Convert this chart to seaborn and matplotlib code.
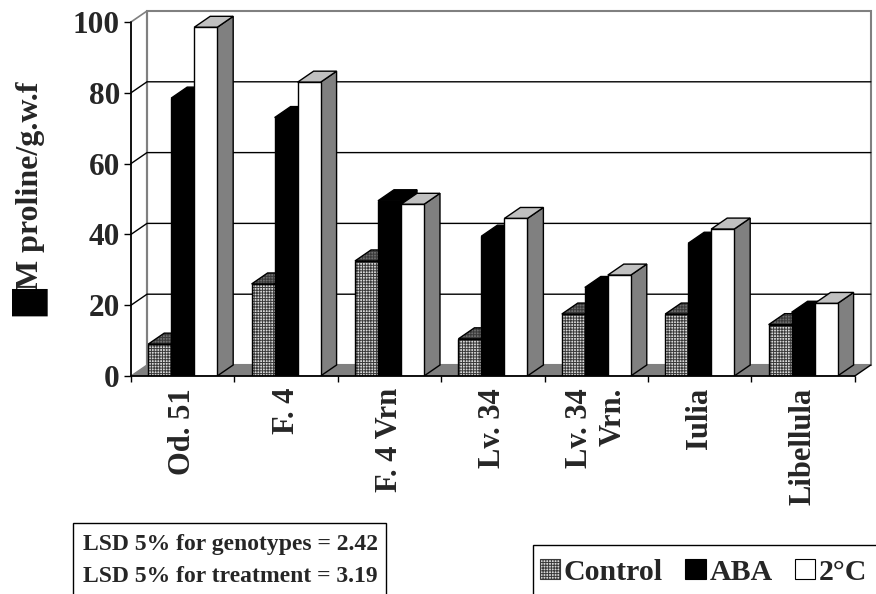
import numpy as np
import pandas as pd
import matplotlib
matplotlib.use("Agg")
import matplotlib.pyplot as plt
import seaborn as sns
from matplotlib.patches import Polygon, Rectangle, Patch

# ---- data ----
genotypes = ["Od. 51", "F. 4", "F. 4 Vrn", "Lv. 34", "Lv. 34\nVrn.", "Iulia", "Libellula"]
treatments = ["Control", "ABA", "2°C"]
control = [9, 26, 32.5, 10.5, 17.5, 17.5, 14.5]
aba = [78.5, 73, 49.5, 39.5, 25, 37.5, 18]
cold = [98.5, 83, 48.5, 44.5, 28.5, 41.5, 20.5]
yticks = [0, 20, 40, 60, 80, 100]
ylabel_box = "█"
ylabel = "M proline/g.w.f"
lsd_lines = ["LSD 5% for genotypes = 2.42", "LSD 5% for treatment = 3.19"]

sns.set_style("white")
plt.rcParams["font.family"] = ["Liberation Serif", "DejaVu Sans"]
plt.rcParams["font.weight"] = "bold"
plt.rcParams["hatch.linewidth"] = 0.7

df = pd.DataFrame({
    "genotype": genotypes * 3,
    "treatment": sum([[t] * len(genotypes) for t in treatments], []),
    "value": control + aba + cold,
})

W, H = 876, 594
fig = plt.figure(figsize=(W / 100, H / 100), dpi=100)

# pixel geometry
px_unit = 3.54          # px per value unit
cat_px = 103.4          # px per category
ddx = 16 / cat_px       # depth offset in x (data units)
ddy = 11 / px_unit      # depth offset in y (data units)
ytop = 103.5
x_left_px, y0_px = 131, 376
ax_w_px = (7 + ddx) * cat_px
ax_h_px = ytop * px_unit
ax = fig.add_axes([x_left_px / W, 1 - y0_px / H, ax_w_px / W, ax_h_px / H])

pal = {"Control": "#d8d8d8", "ABA": "black", "2°C": "white"}
sns.barplot(data=df, x="genotype", y="value", hue="treatment", order=genotypes,
            hue_order=treatments, palette=pal, width=0.667, saturation=1,
            edgecolor="black", linewidth=1, legend=False, ax=ax)

ax.set_xlim(-0.5, 6.5 + ddx)
ax.set_ylim(0, ytop)
for s in ax.spines.values():
    s.set_visible(False)
ax.set_xlabel("")
ax.set_ylabel("")

GREY = "#808080"
HATCH = "++++++"
HCOL = "#3a3a3a"

# floor
floor = Polygon([(-0.5, 0), (6.5, 0), (6.5 + ddx, ddy), (-0.5 + ddx, ddy)],
                closed=True, facecolor=GREY, edgecolor="none", zorder=1)
ax.add_patch(floor)
ax.plot([6.5, 6.5 + ddx], [0, ddy], color="black", lw=1, zorder=1.5, clip_on=False)
# back wall
ax.add_patch(Rectangle((-0.5 + ddx, ddy), 7, 100, facecolor="white",
                       edgecolor=GREY, lw=1.5, zorder=0.5, clip_on=False))
ax.plot([-0.5 + ddx, -0.5 + ddx], [ddy, 100 + ddy], color=GREY, lw=1.5, zorder=1, clip_on=False)
ax.plot([-0.5, -0.5 + ddx], [0, ddy], color=GREY, lw=1, zorder=1.5, clip_on=False)
ax.plot([-0.5, -0.5 + ddx], [100, 100 + ddy], color=GREY, lw=1.2, zorder=1.5, clip_on=False)
for v in yticks[1:-1]:
    ax.plot([-0.5, -0.5 + ddx, 6.5 + ddx], [v, v + ddy, v + ddy], color="black",
            lw=1, zorder=1.2, clip_on=False)
# front axes lines
ax.plot([-0.5, -0.5], [0, 100], color="black", lw=1.3, zorder=10, clip_on=False)
ax.plot([-0.5, 6.5], [0, 0], color="black", lw=1.3, zorder=10, clip_on=False)


def face(pts, fc, z, hatch=None):
    if hatch:
        ax.add_patch(Polygon(pts, closed=True, facecolor=fc, edgecolor=HCOL,
                             hatch=hatch, lw=0, zorder=z))
        ax.add_patch(Polygon(pts, closed=True, facecolor="none", edgecolor="black",
                             lw=1, zorder=z + 0.01))
    else:
        ax.add_patch(Polygon(pts, closed=True, facecolor=fc, edgecolor="black",
                             lw=1, zorder=z))


styles = {
    0: dict(front="#d8d8d8", top="#6e6e6e", side="#6e6e6e", hatch=HATCH),
    1: dict(front="black", top="black", side="black", hatch=None),
    2: dict(front="white", top="#c0c0c0", side=GREY, hatch=None),
}
for k, cont in enumerate(ax.containers):
    st = styles[k]
    for bar in cont:
        x0, w, h = bar.get_x(), bar.get_width(), bar.get_height()
        x1 = x0 + w
        z = 3 + k
        face([(x1, 0), (x1, h), (x1 + ddx, h + ddy), (x1 + ddx, ddy)], st["side"], z, st["hatch"])
        face([(x0, h), (x1, h), (x1 + ddx, h + ddy), (x0 + ddx, h + ddy)], st["top"], z, st["hatch"])
        if st["hatch"]:
            bar.set_facecolor(st["front"])
            bar.set_edgecolor(HCOL)
            bar.set_hatch(st["hatch"])
            bar.set_linewidth(0)
            ax.add_patch(Rectangle((x0, 0), w, h, facecolor="none", edgecolor="black",
                                   lw=1, zorder=z + 0.6))
        bar.set_zorder(z + 0.5)

# ticks
ax.set_yticks(yticks)
ax.set_yticklabels([str(v) for v in yticks], fontsize=22.5, fontweight="bold")
ax.tick_params(axis="y", direction="out", length=5, width=1, pad=3, left=True, color="black")
ax.set_xticks(range(len(genotypes)))
ax.set_xticklabels(genotypes, rotation=90, fontsize=22, fontweight="bold",
                   va="top", ha="center", multialignment="right")
ax.tick_params(axis="x", which="major", length=0, pad=8.5, bottom=True)
ax.set_xticks(np.arange(-0.5, 7, 1), minor=True)
ax.tick_params(axis="x", which="minor", direction="out", length=4.5, width=1,
               bottom=True, color="black")

# y label (box glyph + text)
fig.text(31 / W, 1 - 290 / H, ylabel, rotation=90, ha="center", va="bottom",
         fontsize=23, fontweight="bold")
fig.text(30.5 / W, 1 - 289 / H, ylabel_box, rotation=90, ha="center", va="top",
         fontsize=25, color="black", family=["DejaVu Sans"])

# LSD box
fig.patches.append(Rectangle((73 / W, 1 - 600 / H), (386 - 73) / W, (600 - 523) / H,
                             transform=fig.transFigure, facecolor="white",
                             edgecolor="black", lw=1))
fig.text(83 / W, 1 - 550 / H, lsd_lines[0], fontsize=17, fontweight="bold", va="baseline")
fig.text(83 / W, 1 - 582 / H, lsd_lines[1], fontsize=17, fontweight="bold", va="baseline")

# legend
fig.patches.append(Rectangle((533 / W, 1 - 600 / H), (885 - 533) / W, (600 - 545) / H,
                             transform=fig.transFigure, facecolor="white",
                             edgecolor="black", lw=1))
handles = [
    Patch(facecolor="#d8d8d8", edgecolor=HCOL, hatch=HATCH, lw=0.8),
    Patch(facecolor="black", edgecolor="black", lw=0.8),
    Patch(facecolor="white", edgecolor="black", lw=0.8),
]
leg = fig.legend(handles, treatments, loc="center left",
                 bbox_to_anchor=(537 / W, 1 - 572 / H), ncol=3, frameon=False,
                 borderpad=0.1, handlelength=0.68, handleheight=0.68,
                 handletextpad=0.12, columnspacing=0.75, borderaxespad=0,
                 prop={"size": 21.5, "weight": "bold"})

fig.savefig("out.png", dpi=100)
